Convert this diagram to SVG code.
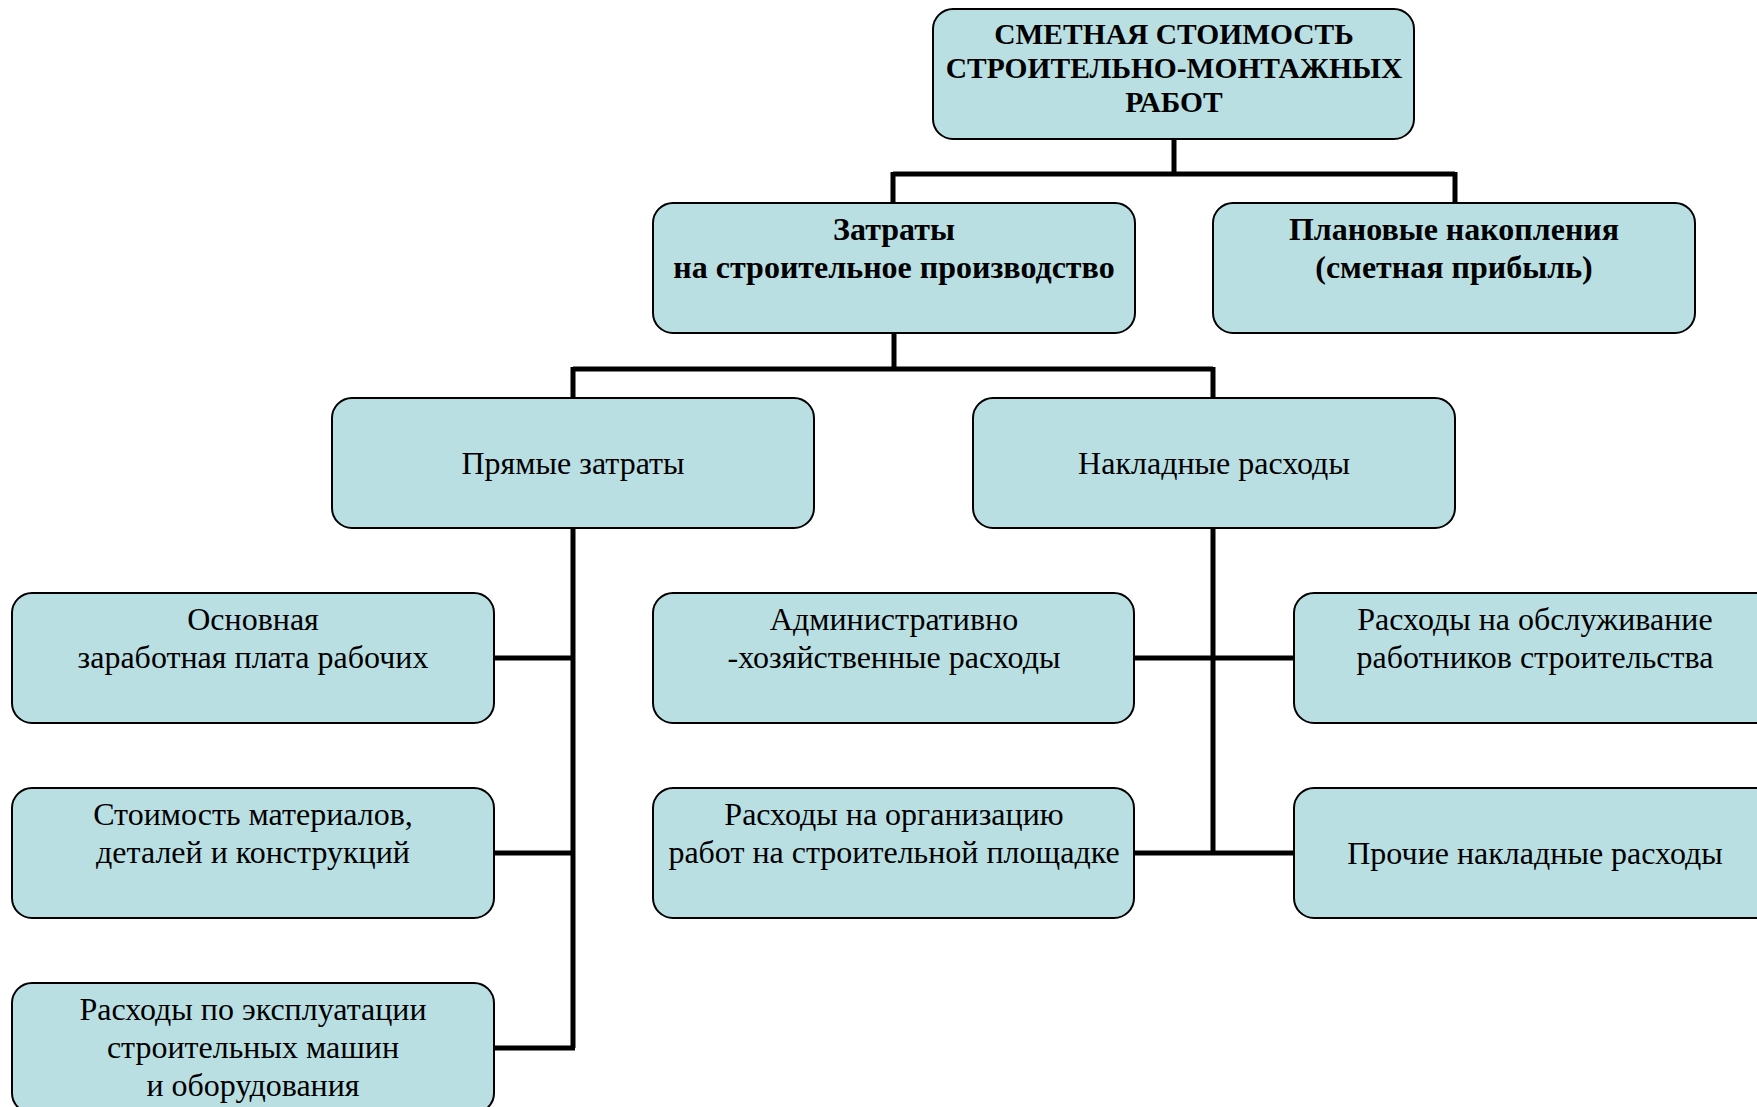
<svg xmlns="http://www.w3.org/2000/svg" width="1757" height="1107" viewBox="0 0 1757 1107">
<style>
.box{fill:#B9DFE3;stroke:#000;stroke-width:2}
.t{font-family:"Liberation Serif","Times New Roman",serif;font-size:32px;fill:#000;text-anchor:middle}
.b{font-family:"Liberation Serif","Times New Roman",serif;font-size:32px;font-weight:bold;fill:#000;text-anchor:middle}
.h{font-size:29.5px}
.c{fill:none;stroke:#000;stroke-width:5}
</style>
<rect width="1757" height="1107" fill="#fff"/>
<g id="connectors">
<path class="c" d="M1174 139V174M893 174H1455M893 172V203M1455 172V203"/>
<path class="c" d="M894 333V369M573 369H1213M573 367V398M1213 367V398"/>
<path class="c" d="M573 528V1048M494 658H575M494 853H575M494 1048H575"/>
<path class="c" d="M1213 528V853M1134 658H1294M1134 853H1294"/>
</g>
<g id="n-root">
<rect class="box" x="933" y="9" width="481" height="130" rx="20"/>
<text class="b h" x="1174" y="44">СМЕТНАЯ СТОИМОСТЬ</text>
<text class="b h" x="1174" y="78">СТРОИТЕЛЬНО-МОНТАЖНЫХ</text>
<text class="b h" x="1174" y="112">РАБОТ</text>
</g>
<g id="n-zatraty">
<rect class="box" x="653" y="203" width="482" height="130" rx="20"/>
<text class="b" x="894" y="240">Затраты</text>
<text class="b" x="894" y="278">на строительное производство</text>
</g>
<g id="n-plan">
<rect class="box" x="1213" y="203" width="482" height="130" rx="20"/>
<text class="b" x="1454" y="240">Плановые накопления</text>
<text class="b" x="1454" y="278">(сметная прибыль)</text>
</g>
<g id="n-pryamye">
<rect class="box" x="332" y="398" width="482" height="130" rx="20"/>
<text class="t" x="573" y="474">Прямые затраты</text>
</g>
<g id="n-nakladnye">
<rect class="box" x="973" y="398" width="482" height="130" rx="20"/>
<text class="t" x="1214" y="474">Накладные расходы</text>
</g>
<g id="n-zarplata">
<rect class="box" x="12" y="593" width="482" height="130" rx="20"/>
<text class="t" x="253" y="630">Основная</text>
<text class="t" x="253" y="668">заработная плата рабочих</text>
</g>
<g id="n-materialy">
<rect class="box" x="12" y="788" width="482" height="130" rx="20"/>
<text class="t" x="253" y="825">Стоимость материалов,</text>
<text class="t" x="253" y="863">деталей и конструкций</text>
</g>
<g id="n-mashiny">
<rect class="box" x="12" y="983" width="482" height="130" rx="20"/>
<text class="t" x="253" y="1020">Расходы по эксплуатации</text>
<text class="t" x="253" y="1058">строительных машин</text>
<text class="t" x="253" y="1096">и оборудования</text>
</g>
<g id="n-admin">
<rect class="box" x="653" y="593" width="481" height="130" rx="20"/>
<text class="t" x="894" y="630">Административно</text>
<text class="t" x="894" y="668">-хозяйственные расходы</text>
</g>
<g id="n-organizaciya">
<rect class="box" x="653" y="788" width="481" height="130" rx="20"/>
<text class="t" x="894" y="825">Расходы на организацию</text>
<text class="t" x="894" y="863">работ на строительной площадке</text>
</g>
<g id="n-obsluzhivanie">
<rect class="box" x="1294" y="593" width="482" height="130" rx="20"/>
<text class="t" x="1535" y="630">Расходы на обслуживание</text>
<text class="t" x="1535" y="668">работников строительства</text>
</g>
<g id="n-prochie">
<rect class="box" x="1294" y="788" width="482" height="130" rx="20"/>
<text class="t" x="1535" y="864">Прочие накладные расходы</text>
</g>
</svg>
